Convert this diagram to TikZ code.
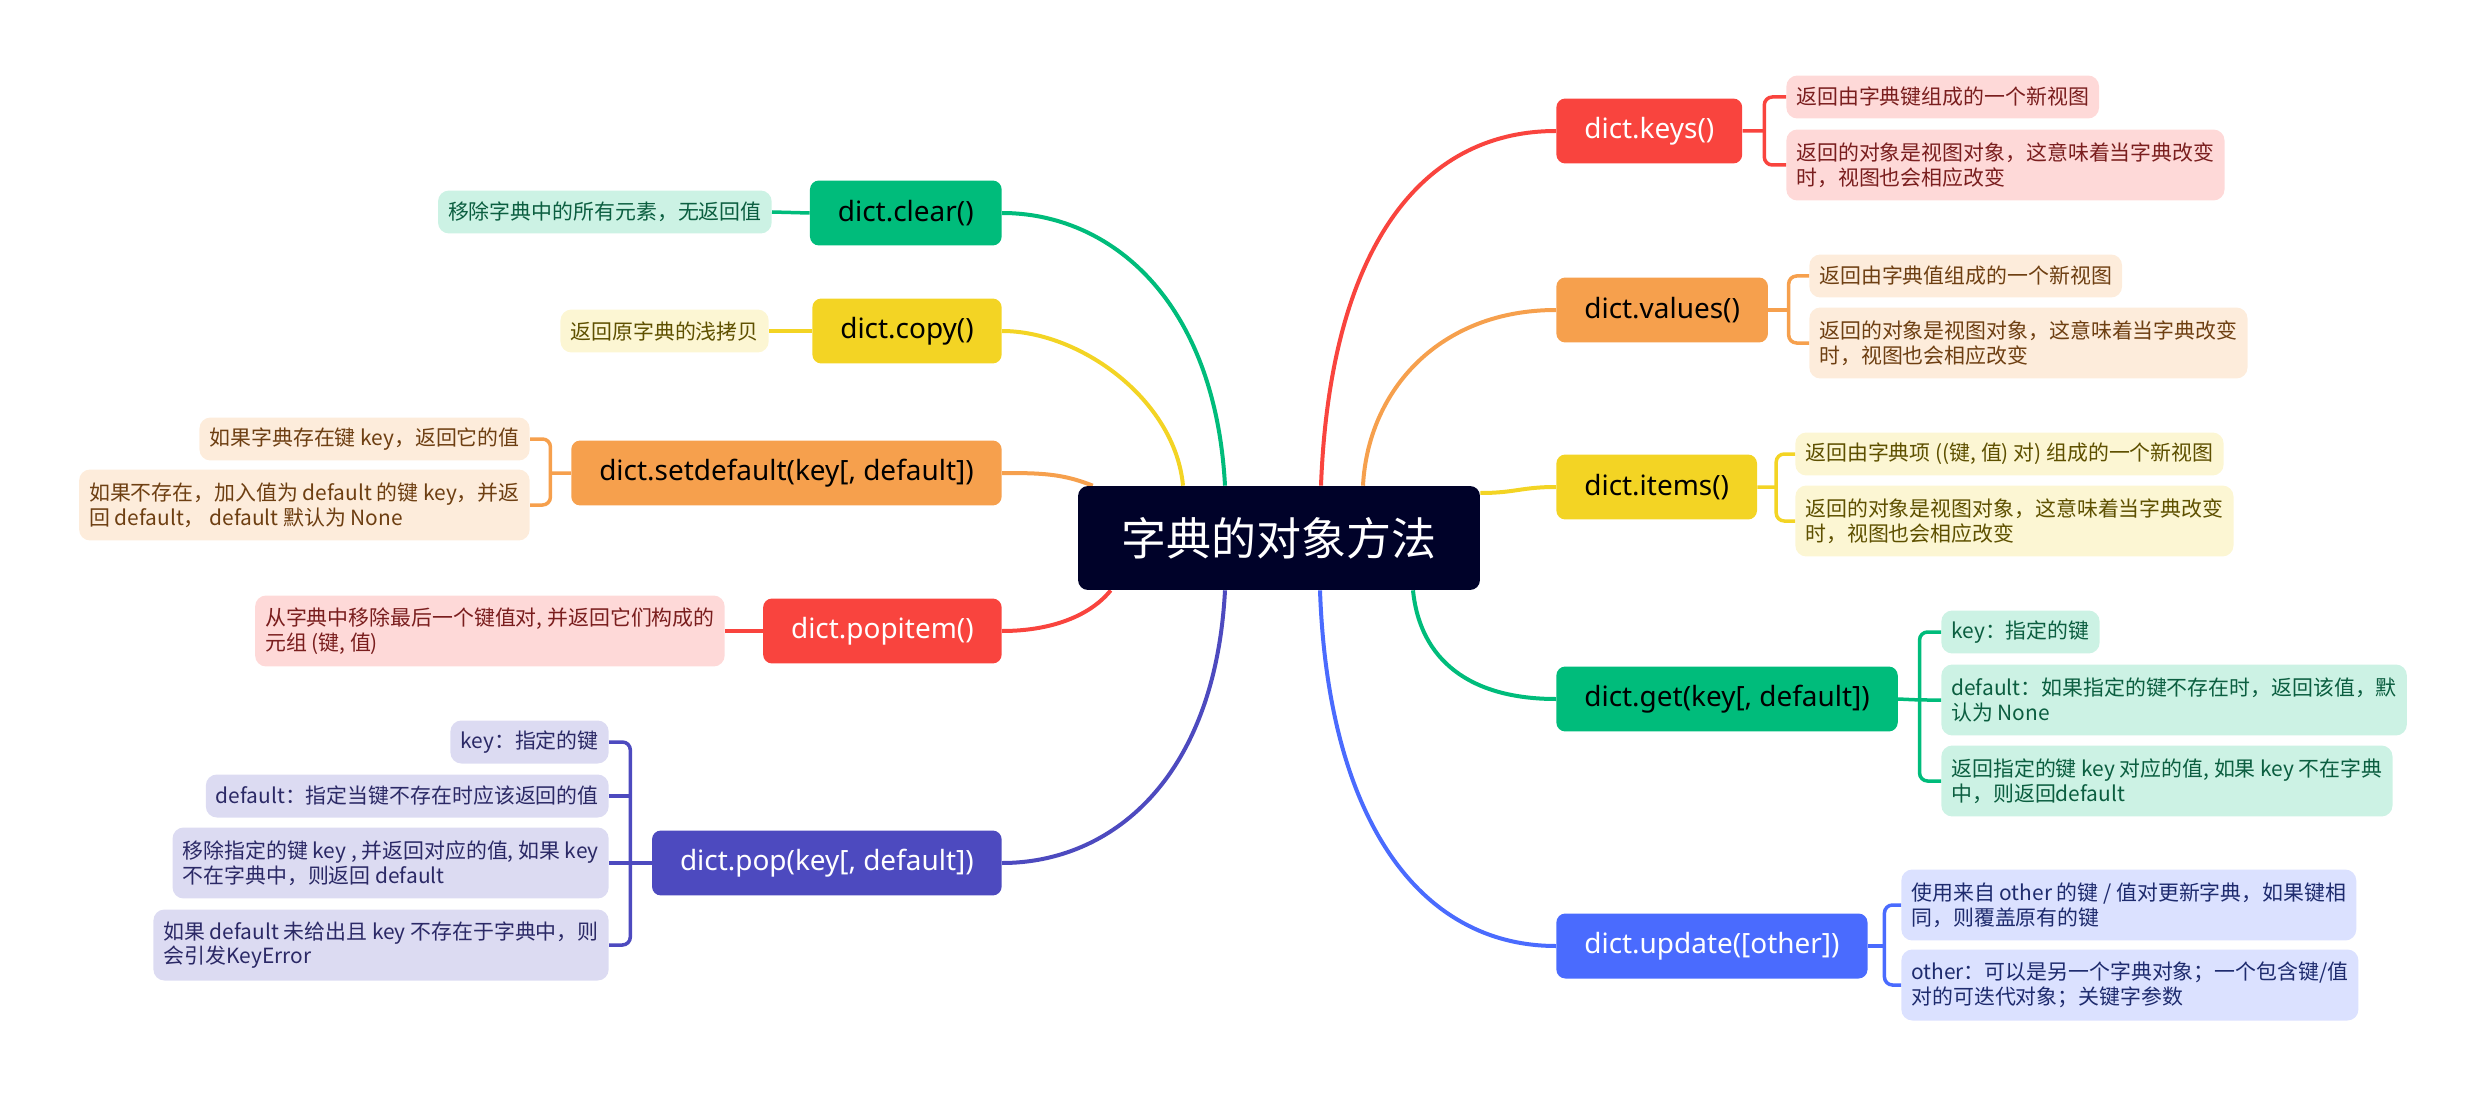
\documentclass[tikz,border=0pt]{standalone}
\usepackage{fontspec}
\setmainfont{Noto Sans CJK SC}
\newfontfamily\latinfont{Noto Sans}
\usepackage{xcolor}
\usepackage{tikz}
\usetikzlibrary{calc, backgrounds}
\definecolor{rootbg}{HTML}{000229}
\definecolor{cred}{HTML}{F9443E}
\definecolor{credL}{HTML}{FED9D8}
\definecolor{credT}{HTML}{7A1E1E}
\definecolor{corange}{HTML}{F6A04D}
\definecolor{corangeL}{HTML}{FDECDB}
\definecolor{corangeT}{HTML}{6E3F12}
\definecolor{cyellow}{HTML}{F3D424}
\definecolor{cyellowL}{HTML}{FCF6D3}
\definecolor{cyellowT}{HTML}{5E5000}
\definecolor{cgreen}{HTML}{00BC7B}
\definecolor{cgreenL}{HTML}{CCF2E4}
\definecolor{cgreenT}{HTML}{0B5E40}
\definecolor{cblue}{HTML}{4A6BFE}
\definecolor{cblueL}{HTML}{DBE1FF}
\definecolor{cblueT}{HTML}{1E2B6E}
\definecolor{cindigo}{HTML}{4D4ABF}
\definecolor{cindigoL}{HTML}{DCDBF2}
\definecolor{cindigoT}{HTML}{2B2966}

\begin{document}
\begin{tikzpicture}[x=0.02cm, y=-0.02cm,
  topic/.style={rectangle, fill=rootbg, text=white, rounded corners=0.2cm,
                minimum width=8.04cm, minimum height=2.08cm,
                font=\fontsize{25.6}{30}\selectfont},
  branch/.style={rectangle, fill=#1, rounded corners=0.18cm,
                 minimum height=1.3cm, inner xsep=0.56cm,
                 font=\latinfont\fontsize{15.9}{19}\selectfont},
  leaf/.style={rectangle, fill=#1L, text=#1T, rounded corners=0.22cm,
               minimum height=0.86cm, inner xsep=0.2cm, inner ysep=0.1cm,
               align=left, font=\fontsize{11.9}{14}\selectfont},
  dos/.style={minimum height=1.42cm},
  link/.style={draw=#1, line width=0.08cm},
  brk/.style={draw=#1, line width=0.07cm, rounded corners=0.16cm},
]
\useasboundingbox (0,0) rectangle (2482,1098);

% Tema central
\node[topic] at (1279,538) (root) {字典的对象方法};

% Ramas derecha
\node[branch=cred, text=white, anchor=west] at (1556,131) (keys)   {dict.keys()};
\node[branch=corange, anchor=west]          at (1556,310) (values) {dict.values()};
\node[branch=cyellow, anchor=west]          at (1556,487) (items)  {dict.items()};
\node[branch=cgreen, anchor=west]           at (1556,699) (get)    {dict.get(key[, default])};
\node[branch=cblue, text=white, anchor=west] at (1556,946) (update) {dict.update([other])};

% Ramas izquierda
\node[branch=cgreen, anchor=east]            at (1002,213) (clear)      {dict.clear()};
\node[branch=cyellow, anchor=east]           at (1002,331) (copy)       {dict.copy()};
\node[branch=corange, anchor=east]           at (1002,473) (setdefault) {dict.setdefault(key[, default])};
\node[branch=cred, text=white, anchor=east]  at (1002,631) (popitem)    {dict.popitem()};
\node[branch=cindigo, text=white, anchor=east] at (1002,863) (pop)      {dict.pop(key[, default])};

% Hojas derecha
\node[leaf=cred, anchor=west]      at (1786,97)  (k1) {返回由字典键组成的一个新视图};
\node[leaf=cred, dos, anchor=west] at (1786,165) (k2) {返回的对象是视图对象，这意味着当字典改变\\时，视图也会相应改变};
\node[leaf=corange, anchor=west]      at (1809,276) (v1) {返回由字典值组成的一个新视图};
\node[leaf=corange, dos, anchor=west] at (1809,343) (v2) {返回的对象是视图对象，这意味着当字典改变\\时，视图也会相应改变};
\node[leaf=cyellow, anchor=west]      at (1795,454) (i1) {返回由字典项 ((键, 值) 对) 组成的一个新视图};
\node[leaf=cyellow, dos, anchor=west] at (1795,521) (i2) {返回的对象是视图对象，这意味着当字典改变\\时，视图也会相应改变};
\node[leaf=cgreen, anchor=west]      at (1941,632) (g1) {key：指定的键};
\node[leaf=cgreen, dos, anchor=west] at (1941,700) (g2) {default：如果指定的键不存在时，返回该值，默\\认为 None};
\node[leaf=cgreen, dos, anchor=west] at (1941,781) (g3) {返回指定的键 key 对应的值, 如果 key 不在字典\\中，则返回default};
\node[leaf=cblue, dos, anchor=west] at (1901,905) (u1) {使用来自 other 的键 / 值对更新字典，如果键相\\同，则覆盖原有的键};
\node[leaf=cblue, dos, anchor=west] at (1901,985) (u2) {other：可以是另一个字典对象；一个包含键/值\\对的可迭代对象；关键字参数};

% Hojas izquierda
\node[leaf=cgreen, anchor=east]  at (772,212) (c1)  {移除字典中的所有元素，无返回值};
\node[leaf=cyellow, anchor=east] at (769,331) (cp1) {返回原字典的浅拷贝};
\node[leaf=corange, anchor=east]      at (530,439) (s1) {如果字典存在键 key，返回它的值};
\node[leaf=corange, dos, anchor=east] at (530,505) (s2) {如果不存在，加入值为 default 的键 key，并返\\回 default， default 默认为 None};
\node[leaf=cred, dos, anchor=east] at (725,631) (p1) {从字典中移除最后一个键值对, 并返回它们构成的\\元组 (键, 值)};
\node[leaf=cindigo, anchor=east]      at (609,742) (o1) {key：指定的键};
\node[leaf=cindigo, anchor=east]      at (609,796) (o2) {default：指定当键不存在时应该返回的值};
\node[leaf=cindigo, dos, anchor=east] at (609,863) (o3) {移除指定的键 key , 并返回对应的值, 如果 key\\不在字典中，则返回 default};
\node[leaf=cindigo, dos, anchor=east] at (609,945) (o4) {如果 default 未给出且 key 不存在于字典中，则\\会引发KeyError};

% Curvas desde el tema central
\begin{scope}[on background layer]
\draw[link=cred]    ($(root.north)+(42,0)$) .. controls +(9,-236) and +(-136,0) .. (keys.west);
\draw[link=corange] ($(root.north)+(84,0)$) .. controls +(5,-96) and +(-116,0) .. (values.west);
\draw[link=cyellow] ($(root.east)+(0,-45)$) .. controls +(35,0) and +(-35,0) .. (items.west);
\draw[link=cgreen]  ($(root.south)+(134,0)$) .. controls +(7,70) and +(-86,0) .. (get.west);
\draw[link=cblue]   ($(root.south)+(41,0)$) .. controls +(8,230) and +(-136,0) .. (update.west);
\draw[link=cgreen]  ($(root.north)+(-54,0)$) .. controls +(-10,-186) and +(108,0) .. (clear.east);
\draw[link=cyellow] ($(root.north)+(-96,0)$) .. controls +(-8,-86) and +(78,0) .. (copy.east);
\draw[link=corange] ($(root.north west)+(15,0)$) .. controls +(-30,-12) and +(40,0) .. (setdefault.east);
\draw[link=cred]    ($(root.south west)+(33,0)$) .. controls +(-20,25) and +(50,0) .. (popitem.east);
\draw[link=cindigo] ($(root.south)+(-54,0)$) .. controls +(-10,190) and +(108,0) .. (pop.east);
\end{scope}

% Llaves derecha
\coordinate (kj) at ($(keys.east)!0.5!(k1.west |- keys.east)$);
\draw[brk=cred] (keys.east) -- (kj);
\draw[brk=cred] (k1.west) -| (kj) |- (k2.west);
\coordinate (vj) at ($(values.east)!0.5!(v1.west |- values.east)$);
\draw[brk=corange] (values.east) -- (vj);
\draw[brk=corange] (v1.west) -| (vj) |- (v2.west);
\coordinate (ij) at ($(items.east)!0.5!(i1.west |- items.east)$);
\draw[brk=cyellow] (items.east) -- (ij);
\draw[brk=cyellow] (i1.west) -| (ij) |- (i2.west);
\coordinate (gj) at ($(get.east)!0.5!(g1.west |- get.east)$);
\draw[brk=cgreen] (get.east) -- (gj |- g2.west) -- (g2.west);
\draw[brk=cgreen] (g1.west) -| (gj) |- (g3.west);
\coordinate (uj) at ($(update.east)!0.5!(u1.west |- update.east)$);
\draw[brk=cblue] (update.east) -- (uj);
\draw[brk=cblue] (u1.west) -| (uj) |- (u2.west);

% Llaves izquierda
\draw[brk=cgreen]  (clear.west) -- (c1.east);
\draw[brk=cyellow] (copy.west) -- (cp1.east);
\coordinate (sj) at ($(setdefault.west)!0.5!(s1.east |- setdefault.west)$);
\draw[brk=corange] (setdefault.west) -- (sj);
\draw[brk=corange] (s1.east) -| (sj) |- (s2.east);
\draw[brk=cred] (popitem.west) -- (p1.east);
\coordinate (oj) at ($(pop.west)!0.5!(o1.east |- pop.west)$);
\draw[brk=cindigo] (pop.west) -- (o3.east);
\draw[brk=cindigo] (o1.east) -| (oj) |- (o4.east);
\draw[brk=cindigo] (oj |- o2.east) -- (o2.east);

\end{tikzpicture}
\end{document}
